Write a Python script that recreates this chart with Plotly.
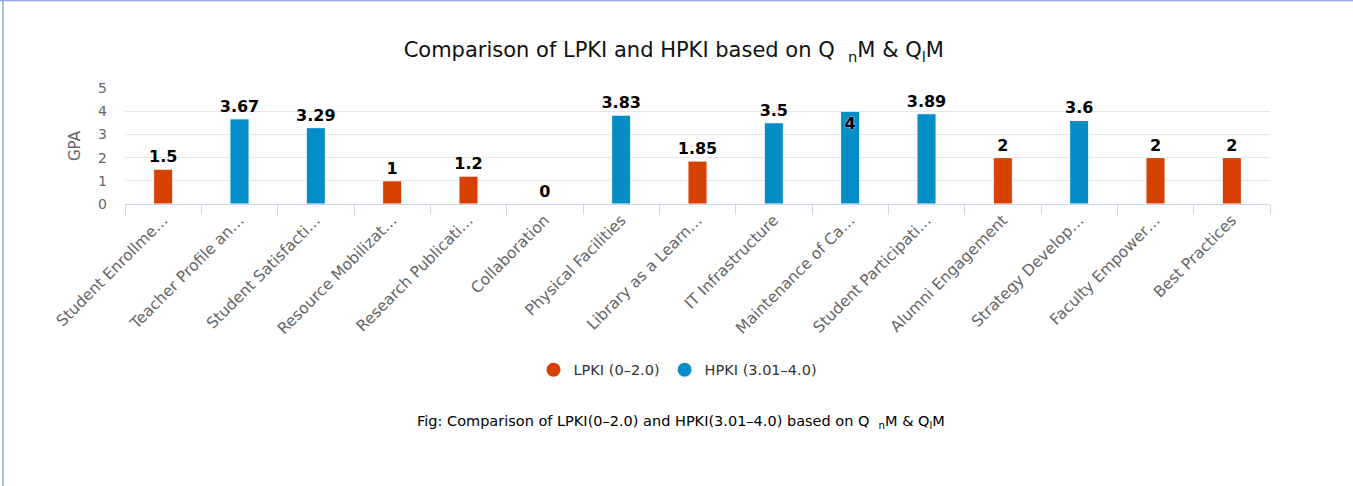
import plotly.graph_objects as go

categories = ["Student Enrollme…", "Teacher Profile an…", "Student Satisfacti…",
              "Resource Mobilizat…", "Research Publicati…", "Collaboration",
              "Physical Facilities", "Library as a Learn…", "IT Infrastructure",
              "Maintenance of Ca…", "Student Participati…", "Alumni Engagement",
              "Strategy Develop…", "Faculty Empower…", "Best Practices"]
gpa = [1.5, 3.67, 3.29, 1, 1.2, 0, 3.83, 1.85, 3.5, 4, 3.89, 2, 3.6, 2, 2]
group = ["L", "H", "H", "L", "L", "L", "H", "L", "H", "H", "H", "L", "H", "L", "L"]
series_names = {"L": "LPKI (0–2.0)", "H": "HPKI (3.01–4.0)"}
colors = {"L": "#D64000", "H": "#058DC7"}

FONT = "DejaVu Sans"
LBL = dict(family=FONT, size=16, color="black", weight="bold", shadow="0px 0px 2px white")
fig = go.Figure()
for g in ["L", "H"]:
    xs = [c for c, gg in zip(categories, group) if gg == g]
    ys = [v for v, gg in zip(gpa, group) if gg == g]
    texts = ["%g" % v for v in ys]
    pos = ["inside" if v >= 4 else "outside" for v in ys]
    fig.add_trace(go.Bar(
        x=xs, y=ys, text=texts, textposition=pos,
        insidetextanchor="end", constraintext="none",
        textfont=LBL, insidetextfont=LBL, outsidetextfont=LBL,
        marker=dict(color=colors[g], line=dict(color="white", width=1)),
        width=0.25, showlegend=False, cliponaxis=False, name=series_names[g]))
# legend entries (circle symbols)
for g in ["L", "H"]:
    fig.add_trace(go.Scatter(x=[None], y=[None], mode="markers", name=series_names[g],
                             marker=dict(color=colors[g], size=14, symbol="circle")))

fig.update_layout(
    width=1353, height=486,
    barmode="overlay",
    paper_bgcolor="white", plot_bgcolor="white",
    margin=dict(l=125, r=83, t=88, b=282),
    font=dict(family=FONT, color="#666666"),
    title=dict(text="Comparison of LPKI and HPKI based on Q  <sub>n</sub>M &amp; Q<sub>l</sub>M",
               x=0.498, xanchor="center", y=0.897, yanchor="middle",
               font=dict(family=FONT, size=21, color="#111111")),
    legend=dict(orientation="h", x=0.483, xanchor="center", y=-1.43, yanchor="middle",
                font=dict(family=FONT, size=14.5, color="#333333"),
                traceorder="normal"),
    showlegend=True,
    annotations=[dict(text="Fig: Comparison of LPKI(0–2.0) and HPKI(3.01–4.0) based on Q  <sub>n</sub>M &amp; Q<sub>l</sub>M",
                      xref="paper", yref="paper", x=0.486, y=-1.88, xanchor="center", yanchor="middle",
                      showarrow=False, font=dict(family=FONT, size=14.5, color="black"))],
    shapes=[dict(type="line", xref="paper", yref="paper", x0=-0.1066, x1=-0.1066, y0=-2.45, y1=1.76,
                 line=dict(color="#8EA9DB", width=1.5)),
            dict(type="line", xref="paper", yref="paper", x0=-0.11, x1=1.08, y0=1.755, y1=1.755,
                 line=dict(color="#8EA9DB", width=1.5))],
)
fig.update_xaxes(type="category", categoryorder="array", categoryarray=categories,
                 tickson="boundaries", ticks="outside", ticklen=10,
                 tickcolor="#CCD6EB", showline=True, linecolor="#CCD6EB", linewidth=1,
                 showgrid=False, tickangle=-45,
                 tickfont=dict(family=FONT, size=15.5, color="#666666"))
fig.update_yaxes(range=[0, 5], dtick=1, showgrid=True, gridcolor="#E6E6E6", zeroline=False,
                 showline=False, ticks="", ticklabelstandoff=17,
                 tickfont=dict(family=FONT, size=14, color="#666666"),
                 title=dict(text="GPA", font=dict(family=FONT, size=15, color="#666666"), standoff=13))

fig.write_html("out.html", config={"displayModeBar": False},
               post_script="document.body.style.margin='0px';")
